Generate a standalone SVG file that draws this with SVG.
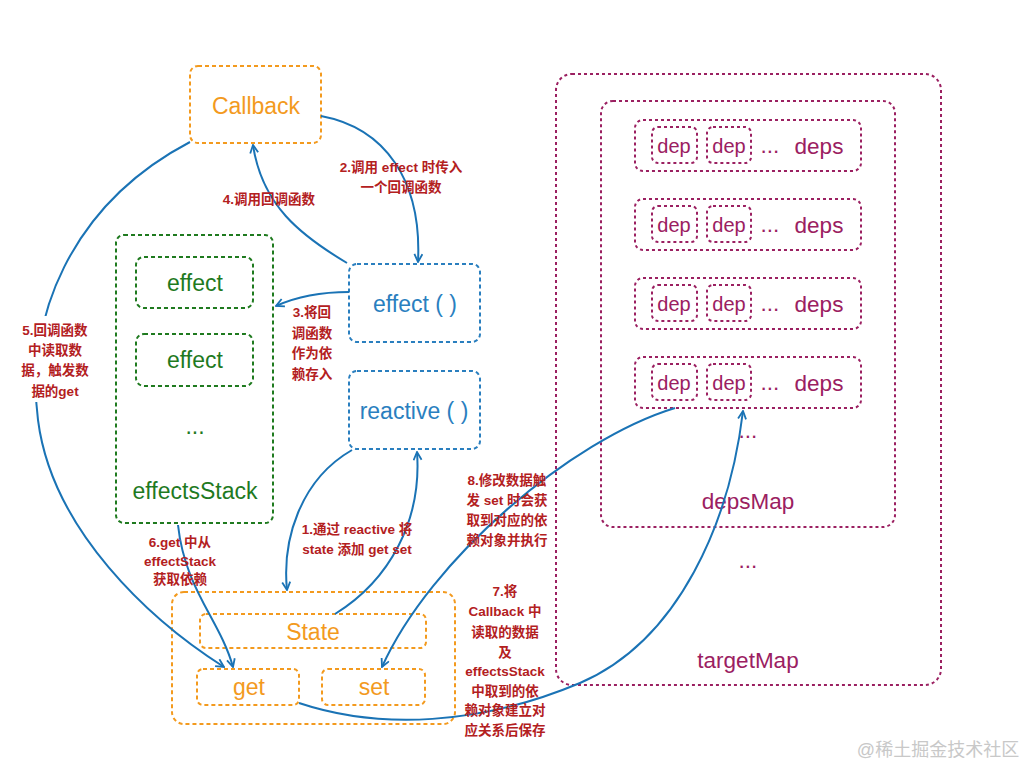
<svg xmlns="http://www.w3.org/2000/svg" width="1024" height="768" viewBox="0 0 1024 768">
<defs>
<style>
.bo{fill:none;stroke:#F39A1E;stroke-width:2;stroke-dasharray:4 3}
.bb{fill:none;stroke:#2A7FBF;stroke-width:2;stroke-dasharray:4 3}
.bg{fill:none;stroke:#1F7A1F;stroke-width:2;stroke-dasharray:4 3}
.bp{fill:none;stroke:#9B2061;stroke-width:2;stroke-dasharray:3 3}
.t{font-family:"Liberation Sans","Noto Sans CJK SC",sans-serif;text-anchor:middle}
.to{fill:#F39A1E;font-size:23px}
.tb{fill:#2A7FBF;font-size:23px}
.tg{fill:#1F7A1F;font-size:23px}
.tp{fill:#9B2061;font-size:22.5px}
.tp2{fill:#9B2061;font-size:20px}
.lb{font-family:"Liberation Sans","Noto Sans CJK SC",sans-serif;text-anchor:middle;fill:#B3201E;font-size:13.5px;font-weight:bold}
.c{fill:none;stroke:#1A73B5;stroke-width:2;marker-end:url(#ah)}
</style>
<marker id="ah" viewBox="0 0 10 10" refX="9" refY="5" markerWidth="10" markerHeight="10" markerUnits="userSpaceOnUse" orient="auto">
<path d="M1,1 L9,5 L1,9" fill="none" stroke="#1A73B5" stroke-width="1.8"/>
</marker>
</defs>
<rect width="1024" height="768" fill="#fff"/>

<g id="targetMap">
<rect class="bp" x="556" y="74" width="385" height="611" rx="16"/>
<text class="t tp" x="748" y="668">targetMap</text>
<text class="t tp" x="748" y="568">...</text>
</g>
<g id="depsMap">
<rect class="bp" x="601" y="101" width="294" height="426" rx="12"/>
<text class="t tp" x="748" y="509">depsMap</text>
<text class="t tp" x="748" y="438">...</text>
</g>
<g id="deps1">
<rect class="bp" x="635" y="120" width="226" height="51" rx="8"/>
<rect class="bp" x="652" y="127" width="45" height="36" rx="6"/>
<rect class="bp" x="707" y="127" width="44" height="36" rx="6"/>
<text class="t tp2" x="674" y="153">dep</text><text class="t tp2" x="729" y="153">dep</text>
<text class="t tp" x="770" y="153">...</text><text class="t tp" x="819" y="154">deps</text>
</g>
<g id="deps2">
<rect class="bp" x="635" y="199" width="226" height="51" rx="8"/>
<rect class="bp" x="652" y="206" width="45" height="36" rx="6"/>
<rect class="bp" x="707" y="206" width="44" height="36" rx="6"/>
<text class="t tp2" x="674" y="232">dep</text><text class="t tp2" x="729" y="232">dep</text>
<text class="t tp" x="770" y="232">...</text><text class="t tp" x="819" y="233">deps</text>
</g>
<g id="deps3">
<rect class="bp" x="635" y="278" width="226" height="51" rx="8"/>
<rect class="bp" x="652" y="285" width="45" height="36" rx="6"/>
<rect class="bp" x="707" y="285" width="44" height="36" rx="6"/>
<text class="t tp2" x="674" y="311">dep</text><text class="t tp2" x="729" y="311">dep</text>
<text class="t tp" x="770" y="311">...</text><text class="t tp" x="819" y="312">deps</text>
</g>
<g id="deps4">
<rect class="bp" x="635" y="357" width="226" height="51" rx="8"/>
<rect class="bp" x="652" y="364" width="45" height="36" rx="6"/>
<rect class="bp" x="707" y="364" width="44" height="36" rx="6"/>
<text class="t tp2" x="674" y="390">dep</text><text class="t tp2" x="729" y="390">dep</text>
<text class="t tp" x="770" y="390">...</text><text class="t tp" x="819" y="391">deps</text>
</g>

<g id="callback">
<rect class="bo" x="190" y="66" width="131" height="77" rx="8"/>
<text class="t to" x="256" y="114">Callback</text>
</g>
<g id="effectFn">
<rect class="bb" x="349" y="264" width="131" height="78" rx="8"/>
<text class="t tb" x="415" y="312">effect ( )</text>
</g>
<g id="reactiveFn">
<rect class="bb" x="349" y="371" width="131" height="78" rx="8"/>
<text class="t tb" x="414" y="419">reactive ( )</text>
</g>
<g id="effectsStack">
<rect class="bg" x="116" y="235" width="157" height="288" rx="8"/>
<rect class="bg" x="136" y="257" width="117" height="51" rx="8"/>
<text class="t tg" x="195" y="291">effect</text>
<rect class="bg" x="136" y="334" width="117" height="52" rx="8"/>
<text class="t tg" x="195" y="368">effect</text>
<text class="t tg" x="195" y="434">...</text>
<text class="t tg" x="195" y="499">effectsStack</text>
</g>
<g id="stateBox">
<rect class="bo" x="172" y="592" width="283" height="132" rx="12"/>
</g>
<g id="state">
<rect class="bo" x="200" y="614" width="226" height="34" rx="6"/>
<text class="t to" x="313" y="640">State</text>
</g>
<g id="get">
<rect class="bo" x="197" y="669" width="102" height="36" rx="6"/>
<text class="t to" x="249" y="695">get</text>
</g>
<g id="set">
<rect class="bo" x="322" y="669" width="103" height="36" rx="6"/>
<text class="t to" x="374" y="695">set</text>
</g>

<g id="connectors">
<path class="c" d="M321,116 C385,128 422,180 418,262"/>
<path class="c" d="M347,263 C300,235 262,205 253,145"/>
<path class="c" d="M349,292 C320,292 298,296 276,306"/>
<path class="c" d="M190,142 C70,205 25,320 38,420 C52,530 150,620 224,667"/>
<path class="c" d="M178,525 C185,590 220,620 233,667"/>
<path class="c" d="M352,450 C300,480 282,540 287,590"/>
<path class="c" d="M335,614 C390,580 422,520 417,452"/>
<path class="c" d="M675,408 C570,440 430,560 382,667"/>
<path class="c" d="M299,703 C380,730 480,725 580,683 C680,640 730,520 743,411"/>
</g>

<g id="labels">
<rect x="20" y="316" width="72" height="86" fill="#fff"/>
<text class="lb" x="401" y="172">2.调用 effect 时传入</text>
<text class="lb" x="401" y="192">一个回调函数</text>
<text class="lb" x="269" y="204">4.调用回调函数</text>
<text class="lb" x="312" y="317">3.将回</text>
<text class="lb" x="312" y="338">调函数</text>
<text class="lb" x="312" y="358">作为依</text>
<text class="lb" x="312" y="379">赖存入</text>
<text class="lb" x="55" y="335">5.回调函数</text>
<text class="lb" x="55" y="355">中读取数</text>
<text class="lb" x="55" y="375">据，触发数</text>
<text class="lb" x="55" y="396">据的get</text>
<text class="lb" x="180" y="547">6.get 中从</text>
<text class="lb" x="180" y="566">effectStack</text>
<text class="lb" x="180" y="584">获取依赖</text>
<text class="lb" x="357" y="534">1.通过 reactive 将</text>
<text class="lb" x="357" y="554">state 添加 get set</text>
<text class="lb" x="507" y="485">8.修改数据触</text>
<text class="lb" x="507" y="505">发 set 时会获</text>
<text class="lb" x="507" y="525">取到对应的依</text>
<text class="lb" x="507" y="545">赖对象并执行</text>
<text class="lb" x="505" y="596">7.将</text>
<text class="lb" x="505" y="616">Callback 中</text>
<text class="lb" x="505" y="637">读取的数据</text>
<text class="lb" x="505" y="657">及</text>
<text class="lb" x="505" y="676">effectsStack</text>
<text class="lb" x="505" y="696">中取到的依</text>
<text class="lb" x="505" y="715">赖对象建立对</text>
<text class="lb" x="505" y="735">应关系后保存</text>
</g>
<text x="938" y="756" font-family="'Liberation Sans','Noto Sans CJK SC',sans-serif" font-size="18" fill="#C8C8C8" text-anchor="middle">@稀土掘金技术社区</text>
</svg>
